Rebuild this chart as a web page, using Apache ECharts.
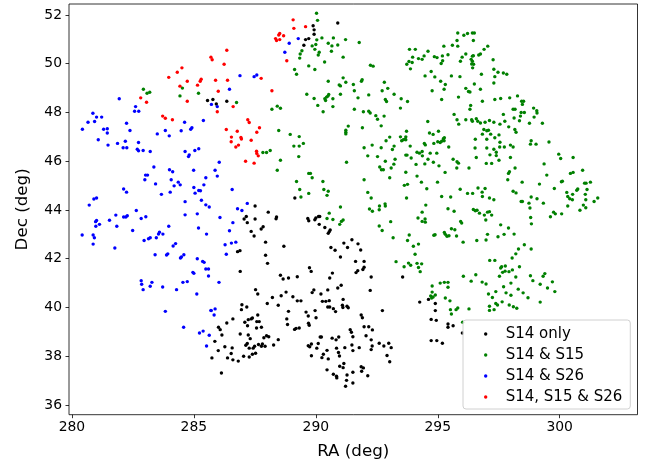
<!DOCTYPE html>
<html>
<head>
<meta charset="utf-8">
<title>S14 overlap</title>
<script src="https://cdn.jsdelivr.net/npm/echarts@6/dist/echarts.min.js"></script>
<style>
  html, body { margin: 0; padding: 0; background: #fff; }
  #chart { width: 649px; height: 464px; }
</style>
</head>
<body>
<div id="chart"></div>
<script>
// tick values
const raTicks = [280, 285, 290, 295, 300];
const decTicks = [36, 38, 40, 42, 44, 46, 48, 50, 52];
const seriesNames = ["S14 only", "S14 & S15", "S14 & S26", "S14, S15 & S26"];

// S14 only (black)
const s14Only = [
  [285.56,48.49],
  [290.90,51.67],[289.89,51.56],[289.93,51.39],[289.93,51.21],[289.71,51.03],[289.58,50.99],[289.51,50.76],
  [285.78,48.53],[285.92,48.35],[286.35,48.46],
  [289.14,44.49],[287.51,44.16],[288.05,43.91],[287.15,43.73],[287.06,43.63],[288.39,43.71],[288.37,43.64],
  [287.51,43.63],[287.19,43.48],[287.35,43.12],[287.84,43.31],[287.76,43.22],[287.47,42.93],[287.94,42.68],
  [288.69,42.51],[286.89,42.33],[286.79,42.29],[287.94,42.14],[288.02,41.81],[286.90,41.48],[288.55,41.32],
  [289.67,43.65],[289.71,43.56],[290.00,43.67],[290.11,43.73],[290.16,43.73],[289.96,43.60],[290.14,43.41],
  [290.37,43.28],[290.59,43.18],[290.55,43.11],[290.51,43.04],[291.15,42.64],[291.30,42.46],[290.62,42.46],
  [290.79,42.35],[291.01,42.07],[289.74,41.63],[289.81,41.48],[290.68,41.41],
  [291.48,42.78],[291.73,42.61],[291.84,42.36],[291.63,41.89],[291.98,41.89],[291.98,41.65],[291.93,41.56],
  [291.72,41.51],[291.65,41.43],
  [288.66,41.17],[288.88,41.21],[289.24,41.26],[290.57,41.21],[287.53,40.73],[287.62,40.55],[288.22,40.41],
  [288.58,40.48],[288.78,40.63],[289.06,40.44],[289.24,40.27],[289.39,40.27],[288.01,40.16],[288.46,40.09],
  [286.97,40.11],[287.17,40.02],[286.95,39.91],[288.88,39.84],[289.60,39.81],[289.69,39.65],[289.97,39.87],
  [290.01,39.58],[288.81,39.53],[288.84,39.30],[289.70,39.35],[289.73,39.27],[289.13,39.10],[289.19,39.14],
  [289.32,39.16],[289.85,40.61],[289.92,40.72],[290.21,40.55],[290.49,40.72],[290.90,40.80],[291.04,40.91],
  [290.27,40.25],[290.41,40.25],[290.55,40.28],[291.12,40.33],[291.11,40.00],[291.09,40.09],[290.49,40.02],
  [290.57,40.02],[290.72,39.95],[290.81,39.83],[291.28,40.05],[291.33,39.99],[286.60,39.53],[286.35,39.36],
  [286.01,39.19],[286.08,39.09],[286.15,38.87],[285.86,38.61],[285.74,37.93],[286.00,38.23],[286.27,38.39],
  [286.57,38.34],[286.38,37.93],[286.60,37.85],[286.82,37.80],[286.53,38.11],[287.04,38.00],[287.27,37.97],
  [287.40,38.08],[287.53,38.12],[286.90,38.91],[287.23,38.87],[287.31,38.72],[287.19,38.52],[287.13,38.45],
  [287.27,38.33],[287.43,38.33],[287.49,38.41],[287.65,38.48],[287.81,38.50],[287.77,38.41],[287.92,38.41],
  [287.87,38.76],[287.98,38.84],[288.07,38.80],[288.27,38.46],[288.46,38.68],[287.58,39.42],[287.68,39.42],
  [287.77,39.19],[287.57,39.16],[287.20,39.25],[287.09,39.39],[287.40,39.57],[287.35,39.53],[287.62,39.69],
  [287.23,39.50],[286.13,37.31],[289.69,38.43],[289.75,38.39],[289.82,38.50],[290.04,38.33],[290.10,38.52],
  [290.18,38.79],[290.23,38.79],[290.31,38.08],[290.25,37.94],[289.82,38.02],[290.46,38.24],[290.67,38.74],
  [290.83,38.67],[290.94,38.79],[290.85,38.33],[290.93,38.15],[290.97,38.01],[291.19,38.35],[291.41,39.09],
  [291.46,38.98],[290.51,37.89],[291.15,37.70],[290.98,37.59],[291.12,37.53],[290.46,37.44],[290.72,37.26],
  [290.85,37.18],[290.86,37.11],[291.28,37.23],[291.26,37.01],[291.22,36.77],
  [292.27,41.25],[293.56,41.25],[292.23,40.70],[292.73,39.87],[291.86,39.69],[291.91,39.58],[291.98,39.21],
  [292.17,39.21],[292.32,39.08],[292.06,38.84],[292.27,38.67],[291.52,38.80],[291.48,38.46],[291.52,38.23],
  [291.78,38.35],[292.31,38.42],[292.27,38.27],[292.60,38.53],[292.79,38.42],[292.99,38.53],[293.09,38.35],
  [292.92,38.03],[293.03,37.77],[291.86,37.57],[291.95,37.52],[291.52,37.34],[291.88,37.38],[292.13,37.20],
  [291.52,36.90],[294.26,40.22],[294.62,40.33],[294.90,40.16],[294.90,39.87],[294.73,39.51],[294.94,39.47],
  [295.42,39.32],[295.42,39.19],[295.63,39.25],[294.73,38.64],[294.96,38.64],[295.19,38.53],[296.01,38.95]
];

// S14 & S15 (green)
const s14s15 = [
  [282.93,48.95],[283.08,48.79],[283.19,48.83],[284.53,49.00],[284.43,48.68],[285.19,48.79],
  [290.03,52.07],[290.07,51.78],[290.04,50.98],[290.25,51.06],[290.72,51.06],[291.22,50.99],[290.51,50.84],
  [290.66,50.73],[290.90,50.77],[289.85,50.73],[290.00,50.79],[289.96,50.59],[289.43,50.53],[289.36,50.40],
  [290.14,50.47],[290.10,50.36],[290.64,50.51],[289.34,50.23],[291.12,50.27],[290.36,50.07],[289.71,49.91],
  [289.96,49.76],[289.13,49.76],[289.21,49.57],[290.51,49.28],[291.12,49.42],[291.23,49.24],[290.96,49.13],
  [291.01,49.09],[289.63,48.75],[289.93,48.57],[290.37,48.56],[290.44,48.63],[290.49,48.67],[290.53,48.74],
  [290.40,48.49],[290.70,48.56],[291.01,48.75],[290.08,48.29],[290.70,48.24],[290.30,48.03],[288.42,48.26],
  [288.55,48.17],[288.20,48.13],[286.75,48.41],[288.48,47.26],[288.95,47.10],[289.32,47.01],[291.33,47.44],
  [291.23,47.27],[291.23,47.19],[291.23,47.12],
  [287.83,46.36],[287.98,46.36],[288.13,46.44],[289.10,46.62],[289.32,46.62],[289.49,46.73],[289.30,46.19],
  [288.55,46.04],[288.42,45.63],[291.26,45.96],[289.71,45.50],[289.78,45.50],[289.85,45.32],[289.21,45.17],
  [290.29,45.17],[289.34,44.84],[290.33,44.84],[290.51,44.77],[289.71,44.68],[290.46,44.60],[289.39,44.53],
  [291.01,44.12],[290.55,43.87],[290.46,43.65],[290.70,43.61],[291.12,43.59],[291.05,43.53],[290.98,43.41],
  [291.78,50.87],[295.82,51.26],[296.07,51.17],[296.22,51.24],[296.42,51.26],[296.50,51.26],[295.79,50.95],
  [296.46,50.95],[295.60,50.76],[295.82,50.72],[295.25,50.72],[293.84,50.59],[294.08,50.59],[294.60,50.51],
  [297.05,50.72],[296.90,50.59],[296.75,50.40],[296.68,50.36],[293.97,50.27],[294.44,50.32],[294.21,50.21],
  [294.36,50.18],[294.86,50.29],[294.97,50.25],[295.19,50.32],[295.42,50.37],[296.00,50.27],[296.42,50.31],
  [296.46,50.33],[296.15,50.40],[293.82,50.09],[293.95,50.05],[293.73,49.98],[293.88,49.79],[295.20,50.12],
  [295.14,50.01],[295.93,50.10],[296.37,50.18],[296.42,50.10],[296.39,49.99],[296.47,49.98],[296.43,49.83],
  [297.27,50.16],[292.24,49.94],[292.35,49.90],[294.73,49.68],[294.48,49.50],[294.88,49.46],[295.56,49.50],
  [295.91,49.47],[296.79,49.57],[295.12,49.28],[295.31,49.15],[291.90,49.34],[291.87,49.28],[292.81,49.24],
  [291.54,49.15],[292.95,48.99],[292.72,48.89],[294.77,48.89],[295.26,48.95],[296.15,48.99],[296.26,48.86],
  [296.32,48.84],[296.50,49.17],[296.75,48.95],[291.58,48.89],[292.17,48.72],[293.21,48.75],[291.73,48.60],
  [292.85,48.53],[292.90,48.45],[293.50,48.56],[293.76,48.45],[295.16,48.53],[295.85,48.63],[296.83,48.46],
  [296.35,48.29],[296.32,48.13],[291.58,48.13],[291.95,48.03],[292.17,48.05],[292.23,47.98],[292.46,47.87],
  [292.80,47.85],[292.53,47.72],[293.47,48.18],[295.67,47.92],[295.79,47.70],[295.86,47.52],[296.15,47.70],
  [296.39,47.70],[296.42,47.64],[296.58,47.74],[296.64,47.64],[296.75,47.57],[296.94,47.60],[297.12,47.67],
  [294.59,47.63],[292.68,47.45],[291.91,47.37],[296.89,47.30],[297.01,47.25],[297.08,47.27],[296.83,47.11],
  [297.17,47.11],[293.72,47.23],[293.47,47.00],[293.69,47.00],[293.66,46.90],[293.03,46.99],[294.66,47.16],
  [294.81,47.10],[295.03,47.23],[295.23,46.92],[295.27,46.96],[296.54,46.90],[297.01,46.90],
  [297.30,49.77],[297.47,49.65],[297.69,49.62],[297.83,49.57],[297.34,49.47],[297.30,49.21],[297.34,48.53],
  [297.58,48.57],[297.95,48.60],[298.27,48.68],[298.44,48.46],[298.52,48.46],[298.47,48.33],[298.09,48.13],
  [298.17,48.13],[298.42,48.00],[298.55,48.00],[298.93,48.18],[299.06,48.07],[299.07,47.98],[298.95,47.81],
  [298.39,47.85],[298.13,47.77],[298.35,47.66],[297.69,47.92],[297.75,47.64],[297.55,47.52],[297.30,47.60],
  [297.91,47.41],[298.76,47.56],[299.29,47.56],[298.16,47.30],[298.21,47.19],[297.51,47.08],[297.34,46.96],
  [291.98,46.55],[292.31,46.66],[292.88,46.84],[292.68,46.55],[293.21,46.62],[293.14,46.48],[293.52,46.84],
  [293.59,46.88],[293.69,46.88],[293.87,46.62],[294.15,46.37],[294.25,46.33],[294.36,46.40],[294.45,46.73],
  [294.49,46.67],[294.84,46.73],[295.00,46.80],[295.10,46.77],[295.16,46.82],[295.26,46.84],[295.45,46.58],
  [296.53,46.54],[297.01,46.54],[292.13,46.22],[292.53,46.19],[293.69,46.25],[293.74,46.25],[293.91,46.13],
  [294.37,46.22],[294.69,46.33],[294.96,46.33],[293.25,46.08],[292.85,46.00],[294.11,45.87],[294.47,45.89],
  [294.60,46.08],[294.82,45.96],[295.05,45.81],[295.63,46.08],[295.79,45.98],[295.85,45.92],[295.78,45.72],
  [296.28,45.72],[296.58,46.15],[296.99,45.91],[297.14,46.26],[297.21,45.91],[292.62,45.76],[292.69,45.65],
  [292.77,45.65],[293.09,45.72],[293.20,45.88],[293.69,45.55],[294.15,45.39],[295.30,45.54],[291.98,45.24],
  [293.03,45.32],[293.63,45.01],[293.76,45.05],[294.33,45.14],[294.99,45.14],[294.55,44.87],[295.92,44.85],
  [296.22,44.68],[296.43,44.68],[296.65,44.90],[296.94,44.88],[296.82,44.73],[296.83,44.55],[297.12,44.49],
  [292.13,44.72],[292.27,44.49],[293.72,44.49],[295.16,44.55],[295.53,44.53],[292.84,44.25],[292.85,44.16],
  [292.61,44.16],[292.60,44.01],[292.20,44.04],[292.32,43.95],[294.51,44.20],[294.36,43.91],[295.42,44.05],
  [295.67,43.95],[296.46,44.02],[296.54,43.97],[296.61,43.99],[296.71,43.87],[296.91,43.79],[297.04,43.91],
  [297.12,43.93],[297.21,43.79],[296.97,43.59],[294.19,43.67],[294.36,43.53],[294.48,43.63],[294.49,43.50],
  [293.07,43.52],[295.94,43.53],[295.98,43.46],[292.60,43.34],[292.72,43.16],[295.56,43.23],[295.70,43.19],
  [295.27,43.08],[294.89,42.98],[294.84,42.96],[295.31,43.00],[295.38,42.92],[295.46,42.94],[295.77,42.93],
  [297.04,43.00],[293.17,42.86],[293.83,42.97],[293.76,42.75],[294.21,42.60],[294.00,42.51],[296.60,42.75],
  [296.98,42.77],[296.04,42.68],[294.07,42.18],[293.29,41.88],[293.80,41.82],[293.89,41.73],[293.62,41.67],
  [294.15,41.81],[294.34,41.79],[294.21,41.64],[294.28,41.47],[297.13,41.93],[296.05,41.28],[296.56,41.34],
  [297.55,46.78],[297.54,46.58],[297.73,46.58],[297.98,46.66],[298.09,46.58],[298.83,46.84],[298.80,46.70],
  [299.03,46.70],[299.56,46.79],[297.30,46.49],[297.40,46.37],[297.40,46.23],[297.51,46.04],[297.98,46.15],
  [299.96,46.29],[300.04,46.11],[300.55,46.15],[299.36,45.89],[298.17,45.72],[297.94,45.57],[297.90,45.50],
  [297.87,45.24],[299.47,45.43],[300.94,45.63],[300.44,45.50],[300.55,45.54],[298.46,45.14],[299.17,45.06],
  [300.07,45.16],[300.11,45.18],[301.02,45.10],[301.08,45.10],[301.26,45.14],[299.78,44.88],[298.09,44.77],
  [298.21,44.70],[300.29,44.72],[300.74,44.86],[300.70,44.81],[301.12,44.84],[300.33,44.55],[300.53,44.64],
  [298.83,44.53],[299.07,44.46],[297.30,44.42],[298.42,44.35],[298.47,44.35],[299.33,44.28],[298.74,44.28],
  [300.41,44.46],[300.52,44.42],[301.05,44.64],[301.07,44.42],[301.56,44.49],[301.41,44.35],[300.97,44.20],
  [301.07,44.09],[298.78,44.08],[300.33,44.16],[300.83,43.99],[299.75,43.91],[299.82,43.84],[299.62,43.72],
  [300.08,43.84],[298.81,43.69],[298.84,43.43],[297.58,43.39],[297.90,43.26],[297.72,43.00],[298.13,43.01],
  [297.47,42.90],[298.55,42.57],[298.31,42.40],[298.83,42.40],[298.20,42.20],[298.05,42.03],[297.34,41.93],
  [298.35,41.67],[297.77,41.70],[297.62,41.67],[297.58,41.62],[297.66,41.44],[298.06,41.54],[297.92,41.47],
  [297.76,41.49],[299.39,41.39],[299.32,41.28],[298.20,41.25],[297.53,41.28],[298.80,41.30],
  [294.77,40.88],[295.10,41.00],[295.27,41.03],[295.42,41.03],[295.42,40.83],[294.77,40.63],[294.71,40.47],
  [294.75,40.39],[294.81,40.43],[294.90,40.51],[295.31,40.39],[295.50,40.27],[295.52,39.91],[295.56,39.73],
  [295.75,39.91],[295.82,39.98],[296.28,39.94],[296.37,41.08],[296.82,41.04],[296.98,40.96],[297.38,40.65],
  [297.08,40.55],[297.24,40.41],[297.38,40.16],[297.12,40.05],[297.12,39.88],[297.31,39.91],[296.02,39.39],
  [297.45,40.10],[297.64,40.23],[297.93,40.10],[298.10,40.03],[298.24,39.97],[299.20,40.22],
  [297.7,40.85],[298.0,41.0],[298.3,40.75],[298.5,40.6],[298.9,41.1],[299.2,40.95],[299.5,40.8],[299.8,40.65],
  [299.7,41.05],[298.7,40.4],[298.0,40.5],[297.8,40.6]
];

// S14 & S26 (blue)
const s14s26 = [
  [281.94,48.56],[282.61,48.24],[282.57,48.05],[282.74,48.05],[280.86,47.97],[281.01,47.81],[281.22,47.81],
  [280.93,47.63],[280.66,47.60],[280.43,47.31],[281.30,47.31],[281.45,47.33],[281.45,47.16],[282.24,47.56],
  [282.38,47.26],[284.62,47.60],[284.92,47.37],[284.87,47.31],[285.39,47.67],[283.50,47.12],[283.83,47.26],
  [284.48,47.25],[283.99,47.04],
  [289.28,51.03],[288.91,50.84],[288.73,50.47],[286.89,49.51],[287.47,49.47],[287.58,49.54],[286.46,48.95],
  [285.72,48.33],[285.96,48.24],
  [281.08,46.88],[281.48,46.66],[281.87,46.73],[282.19,46.82],[282.10,46.55],[282.25,46.55],[282.73,46.77],
  [282.68,46.49],[282.73,46.43],[282.92,46.44],[283.21,46.40],[284.64,46.40],[284.78,46.19],[284.81,46.26],
  [285.04,46.44],[285.20,46.51],[283.36,45.76],[283.02,45.43],[283.10,45.43],[282.99,45.24],[283.43,45.07],
  [284.00,45.65],[284.13,45.57],[284.99,45.63],[284.07,45.24],[284.36,45.14],[284.19,44.99],[284.44,45.03],
  [285.49,45.32],[282.12,44.86],[282.24,44.73],[285.00,44.92],[285.41,45.03],[285.20,44.80],[285.05,44.69],
  [285.27,44.79],[283.67,44.64],[284.03,44.73],[280.90,44.45],[281.01,44.49],[280.71,44.20],[284.64,44.34],
  [285.31,44.40],[285.49,44.21],[285.63,44.12],[282.64,43.98],[281.80,43.79],[282.12,43.71],[282.21,43.71],
  [282.27,43.76],[283.03,43.72],[282.84,43.65],[281.54,43.58],[280.97,43.52],[281.01,43.57],[281.13,43.41],
  [280.98,43.33],[281.84,43.33],[284.64,43.80],[285.14,43.84],[280.42,42.97],[280.87,42.97],[280.92,42.86],
  [280.87,42.60],[282.49,43.16],[283.97,43.33],[283.59,43.09],[283.55,43.01],[283.73,43.01],[283.46,42.86],
  [283.21,42.86],[283.14,42.82],[282.96,42.75],[285.19,43.26],[285.52,43.01],[281.76,42.44],[284.15,42.52],
  [284.25,42.62],[283.41,42.16],[283.88,42.15],[283.93,42.20],[284.45,42.03],[284.49,42.07],[284.59,42.16],
  [285.14,42.00],[285.36,41.89],[285.42,41.85],[285.49,41.58],[285.60,41.58],[284.96,41.44],[285.00,41.40],
  [286.04,45.96],[285.87,45.63],[285.96,45.39],[286.57,44.84],[287.19,44.27],[286.79,44.05],[286.97,43.98],
  [286.07,43.69],[286.60,43.48],[286.46,43.15],[286.72,42.68],[286.54,42.64],[286.28,42.57],[286.33,42.18],
  [282.84,41.10],[282.86,40.95],[283.28,41.03],[283.21,40.87],[282.92,40.73],[283.72,40.84],[284.29,40.73],
  [284.55,41.03],[284.73,41.06],[285.12,40.55],[283.83,39.84],[285.60,41.29],[285.71,39.87],[284.58,39.19],
  [285.23,38.95],[285.38,39.03],[285.63,38.86],[285.52,38.42],
  [286.03,41.03],[285.70,39.88],[285.87,39.94],[285.83,39.69]
];

// S14, S15 & S26 (red)
const s14s15s26 = [
  [284.51,49.83],[284.32,49.65],[283.97,49.44],[284.73,49.28],[285.30,49.36],[285.26,49.28],[285.15,49.12],
  [284.43,49.08],[282.82,48.60],[283.06,48.42],[284.73,48.46],[283.72,47.85],[283.83,47.76],[284.12,47.70],
  [285.70,50.27],[285.75,50.16],[289.07,51.80],[289.10,51.45],[289.58,51.52],[288.35,51.03],[288.48,51.18],
  [288.52,51.24],[288.68,51.15],[288.39,50.95],[288.52,50.99],[286.35,50.55],[286.24,49.98],[288.81,50.12],
  [285.89,49.32],[286.38,49.32],[287.76,49.40],[286.00,48.87],[288.20,48.89],[286.61,48.24],[285.96,48.03],
  [287.21,47.70],[287.27,47.59],[287.69,47.37],[287.58,47.19],[286.33,47.30],[286.78,47.23],[286.54,46.99],
  [286.93,46.97],[286.95,46.91],
  [286.53,46.80],[286.83,46.66],[286.72,46.58],[287.35,46.86],[287.57,46.41],[287.58,46.32],[287.64,46.22],
  [287.12,46.00],[287.47,45.92]
];

const colors = ["#000000", "#008000", "#0000ff", "#ff0000"];
const allData = [s14Only, s14s15, s14s26, s14s15s26];

const chart = echarts.init(document.getElementById("chart"), null, { renderer: "canvas" });

const font = "DejaVu Sans";

const option = {
  animation: false,
  backgroundColor: "#ffffff",
  grid: {
    left: 69,
    top: 4,
    right: 11.5,
    bottom: 49.3,
    show: true,
    borderColor: "#000",
    borderWidth: 0.8,
    backgroundColor: "#fff",
    outerBoundsMode: "none"
  },
  legend: {
    data: seriesNames,
    orient: "vertical",
    left: 463,
    top: 320,
    padding: [6, 8, 4, 21],
    itemWidth: 30,
    itemHeight: 3.4,
    itemGap: 5,
    icon: "circle",
    backgroundColor: "rgba(255,255,255,0.8)",
    borderColor: "#d0d0d0",
    borderWidth: 1,
    borderRadius: 3,
    textStyle: { fontFamily: font, fontSize: 15, color: "#000", lineHeight: 16 }
  },
  xAxis: {
    type: "value",
    min: 279.88,
    max: 303.19,
    name: "RA (deg)",
    nameLocation: "middle",
    nameGap: 28,
    nameTextStyle: { fontFamily: font, fontSize: 16.7, color: "#000" },
    axisLine: { show: false },
    axisTick: {
      show: true, length: 3.5, lineStyle: { color: "#000", width: 0.8 },
      customValues: raTicks
    },
    axisLabel: {
      fontFamily: font, fontSize: 13.9, color: "#000", margin: 6,
      customValues: raTicks
    },
    splitLine: { show: false }
  },
  yAxis: {
    type: "value",
    min: 35.6,
    max: 52.45,
    name: "Dec (deg)",
    nameLocation: "middle",
    nameGap: 38,
    nameTextStyle: { fontFamily: font, fontSize: 16.7, color: "#000" },
    axisLine: { show: false },
    axisTick: {
      show: true, length: 3.5, lineStyle: { color: "#000", width: 0.8 },
      customValues: decTicks
    },
    axisLabel: {
      fontFamily: font, fontSize: 13.9, color: "#000", margin: 7,
      customValues: decTicks
    },
    splitLine: { show: false }
  },
  series: seriesNames.map((name, i) => ({
    name: name,
    type: "scatter",
    data: allData[i],
    symbol: "circle",
    symbolSize: 3.4,
    itemStyle: { color: colors[i], opacity: 1 },
    emphasis: { disabled: true }
  }))
};

chart.setOption(option);
</script>
</body>
</html>
